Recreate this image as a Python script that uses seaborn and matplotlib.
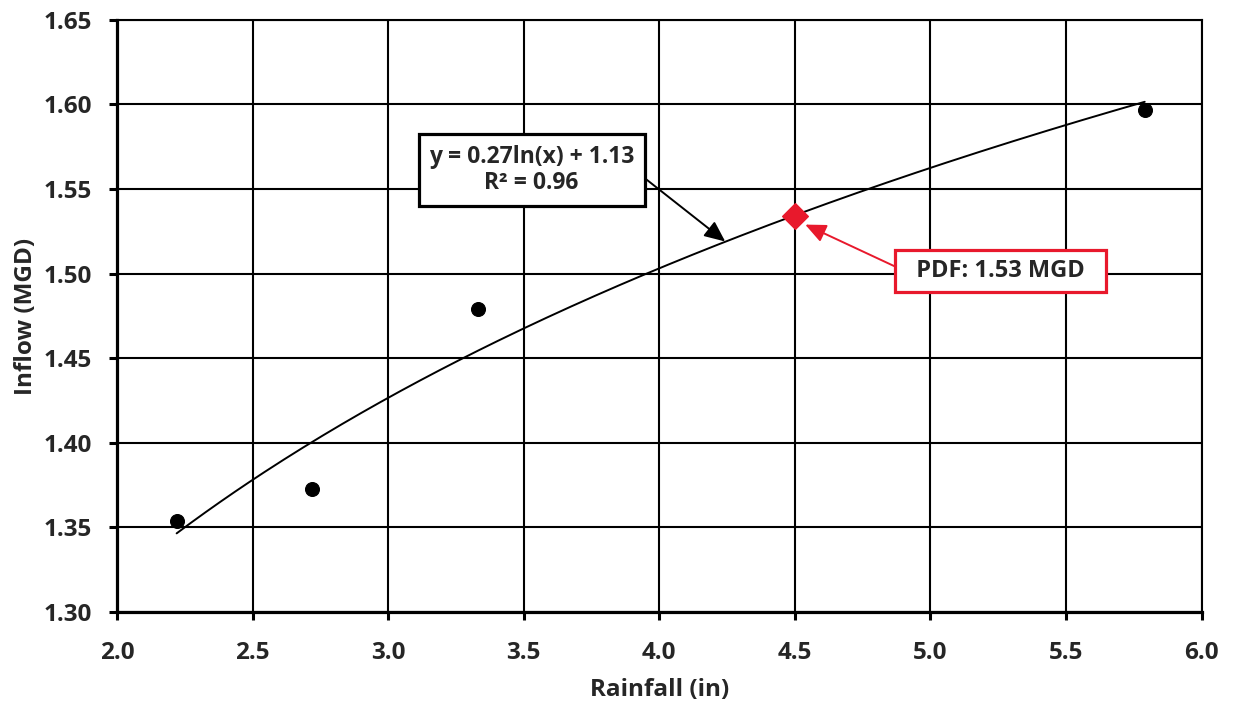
import numpy as np
import pandas as pd
import matplotlib
matplotlib.use("Agg")
import matplotlib.pyplot as plt
import seaborn as sns

# Data
rainfall_in = [2.22, 2.72, 3.33, 5.79]
inflow_mgd = [1.354, 1.373, 1.479, 1.597]
pdf_rainfall = [4.5]
pdf_inflow = [1.534]
x_ticks = [2.0, 2.5, 3.0, 3.5, 4.0, 4.5, 5.0, 5.5, 6.0]
y_ticks = [1.30, 1.35, 1.40, 1.45, 1.50, 1.55, 1.60, 1.65]
eq_text = "y = 0.27ln(x) + 1.13\nR² = 0.96"
pdf_text = "PDF: 1.53 MGD"

sns.set_theme(style="white")
plt.rcParams['font.family'] = ['Open Sans', 'DejaVu Sans']
plt.rcParams['font.weight'] = 'bold'

fig = plt.figure(figsize=(12.34, 7.10), dpi=100)
ax = fig.add_axes([0.0948, 0.138, 0.879, 0.834])

# logarithmic trend line fitted on the data
coef = np.polyfit(np.log(rainfall_in), inflow_mgd, 1)
xs = np.linspace(min(rainfall_in), max(rainfall_in), 200)
trend = pd.DataFrame({"x": xs, "y": coef[0] * np.log(xs) + coef[1]})
sns.lineplot(data=trend, x="x", y="y", ax=ax, color="black", linewidth=1.4, zorder=3)

pts = pd.DataFrame({"x": rainfall_in, "y": inflow_mgd})
sns.scatterplot(data=pts, x="x", y="y", ax=ax, color="black", s=100, edgecolor="black", zorder=4)

pdf = pd.DataFrame({"x": pdf_rainfall, "y": pdf_inflow})
sns.scatterplot(data=pdf, x="x", y="y", ax=ax, color="#e8192c", marker="D", s=170,
                edgecolor="#e8192c", zorder=5)

ax.set_xlim(x_ticks[0], x_ticks[-1])
ax.set_ylim(y_ticks[0], y_ticks[-1])
ax.set_xticks(x_ticks)
ax.set_yticks(y_ticks)
ax.set_xticklabels([f"{v:.1f}" for v in x_ticks])
ax.set_yticklabels([f"{v:.2f}" for v in y_ticks])
ax.grid(True, color="black", linewidth=1.5)
ax.set_axisbelow(True)

for side in ["top", "right"]:
    ax.spines[side].set_color("black")
    ax.spines[side].set_linewidth(1.5)
for side in ["left", "bottom"]:
    ax.spines[side].set_color("black")
    ax.spines[side].set_linewidth(2.3)

ax.tick_params(axis="both", direction="out", length=6, width=2.2, color="black",
               labelsize=17.5, left=True, bottom=True)
ax.tick_params(axis="y", pad=12)
ax.tick_params(axis="x", pad=15)
for lab in ax.get_xticklabels() + ax.get_yticklabels():
    lab.set_fontweight("bold")

ax.set_xlabel("Rainfall (in)", fontsize=17.5, fontweight="bold", labelpad=9)
ax.set_ylabel("Inflow (MGD)", fontsize=17.5, fontweight="bold", labelpad=4)

# equation annotation
ax.annotate(eq_text, xy=(4.243, 1.519), xytext=(3.529, 1.5613),
            fontsize=16.5, fontweight="bold", ha="center", va="center", linespacing=1.15,
            bbox=dict(boxstyle="square,pad=0.45", fc="white", ec="black", lw=2.3),
            arrowprops=dict(arrowstyle="-|>,head_length=0.9,head_width=0.4", color="black",
                            lw=1.4, shrinkA=0, shrinkB=0, mutation_scale=14,
                            relpos=(1.0, 0.5)),
            zorder=6)

# PDF annotation
ax.annotate("  " + pdf_text + "  ", xy=(4.538, 1.529), xytext=(5.259, 1.5017),
            fontsize=17, fontweight="bold", ha="center", va="center",
            bbox=dict(boxstyle="square,pad=0.38", fc="white", ec="#e8192c", lw=2.3),
            arrowprops=dict(arrowstyle="-|>,head_length=0.9,head_width=0.4", color="#e8192c",
                            lw=1.4, shrinkA=0, shrinkB=0, mutation_scale=14,
                            relpos=(0.0, 0.5)),
            zorder=6)

fig.savefig("out.png", dpi=100)
